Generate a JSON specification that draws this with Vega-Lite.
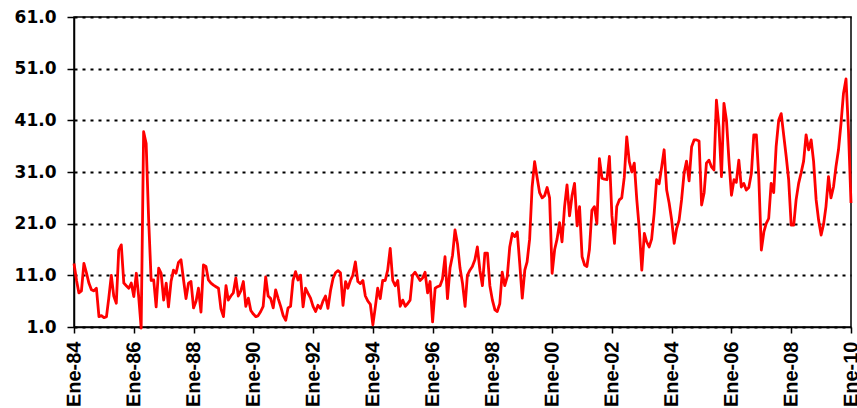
{
"$schema": "https://vega.github.io/schema/vega-lite/v6.json",
"width": 777, "height": 310,
"autosize": "none",
"padding": {"left": 74, "top": 17, "right": 6, "bottom": 81},
"background": "white",
"config": {"view": {"stroke": "black", "strokeWidth": 1.5}},
"datasets": {"serie": [
{"d":"1984-01-01","v":13.3},{"d":"1984-02-01","v":10},{"d":"1984-03-01","v":7.6},{"d":"1984-04-01","v":8},{"d":"1984-05-01","v":13.3},{"d":"1984-06-01","v":11.5},{"d":"1984-07-01","v":9.5},{"d":"1984-08-01","v":8.2},{"d":"1984-09-01","v":8},{"d":"1984-10-01","v":8.5},{"d":"1984-11-01","v":3},{"d":"1984-12-01","v":3.2},
{"d":"1985-01-01","v":2.8},{"d":"1985-02-01","v":3},{"d":"1985-03-01","v":6.6},{"d":"1985-04-01","v":11},{"d":"1985-05-01","v":7},{"d":"1985-06-01","v":5.6},{"d":"1985-07-01","v":15.9},{"d":"1985-08-01","v":16.9},{"d":"1985-09-01","v":9.5},{"d":"1985-10-01","v":9},{"d":"1985-11-01","v":8.5},{"d":"1985-12-01","v":9.5},
{"d":"1986-01-01","v":6.9},{"d":"1986-02-01","v":11.4},{"d":"1986-03-01","v":7},{"d":"1986-04-01","v":0.8},{"d":"1986-05-01","v":38.8},{"d":"1986-06-01","v":36.5},{"d":"1986-07-01","v":22},{"d":"1986-08-01","v":10},{"d":"1986-09-01","v":10.1},{"d":"1986-10-01","v":4.9},{"d":"1986-11-01","v":12.4},{"d":"1986-12-01","v":11.4},
{"d":"1987-01-01","v":6.2},{"d":"1987-02-01","v":9.5},{"d":"1987-03-01","v":4.9},{"d":"1987-04-01","v":9.8},{"d":"1987-05-01","v":12},{"d":"1987-06-01","v":11.4},{"d":"1987-07-01","v":13.5},{"d":"1987-08-01","v":14},{"d":"1987-09-01","v":10.1},{"d":"1987-10-01","v":6.5},{"d":"1987-11-01","v":9.5},{"d":"1987-12-01","v":9.8},
{"d":"1988-01-01","v":4.7},{"d":"1988-02-01","v":6},{"d":"1988-03-01","v":8.5},{"d":"1988-04-01","v":3.9},{"d":"1988-05-01","v":13},{"d":"1988-06-01","v":12.7},{"d":"1988-07-01","v":10.1},{"d":"1988-08-01","v":9.5},{"d":"1988-09-01","v":9.1},{"d":"1988-10-01","v":8.8},{"d":"1988-11-01","v":8.5},{"d":"1988-12-01","v":4.5},
{"d":"1989-01-01","v":3},{"d":"1989-02-01","v":9},{"d":"1989-03-01","v":6.2},{"d":"1989-04-01","v":7},{"d":"1989-05-01","v":7.6},{"d":"1989-06-01","v":10.5},{"d":"1989-07-01","v":7},{"d":"1989-08-01","v":8},{"d":"1989-09-01","v":9.8},{"d":"1989-10-01","v":5},{"d":"1989-11-01","v":6.6},{"d":"1989-12-01","v":4.2},
{"d":"1990-01-01","v":3.5},{"d":"1990-02-01","v":3},{"d":"1990-03-01","v":3.2},{"d":"1990-04-01","v":4},{"d":"1990-05-01","v":5},{"d":"1990-06-01","v":10.7},{"d":"1990-07-01","v":7},{"d":"1990-08-01","v":6.5},{"d":"1990-09-01","v":4.7},{"d":"1990-10-01","v":8.2},{"d":"1990-11-01","v":6.5},{"d":"1990-12-01","v":5},
{"d":"1991-01-01","v":3.2},{"d":"1991-02-01","v":2.3},{"d":"1991-03-01","v":4.7},{"d":"1991-04-01","v":5},{"d":"1991-05-01","v":10},{"d":"1991-06-01","v":11.7},{"d":"1991-07-01","v":10.1},{"d":"1991-08-01","v":11},{"d":"1991-09-01","v":4.9},{"d":"1991-10-01","v":8.5},{"d":"1991-11-01","v":7.5},{"d":"1991-12-01","v":6.6},
{"d":"1992-01-01","v":5},{"d":"1992-02-01","v":4},{"d":"1992-03-01","v":5.2},{"d":"1992-04-01","v":4.6},{"d":"1992-05-01","v":6},{"d":"1992-06-01","v":7},{"d":"1992-07-01","v":4.6},{"d":"1992-08-01","v":8},{"d":"1992-09-01","v":10.4},{"d":"1992-10-01","v":11.5},{"d":"1992-11-01","v":11.9},{"d":"1992-12-01","v":11.5},
{"d":"1993-01-01","v":5.2},{"d":"1993-02-01","v":9.8},{"d":"1993-03-01","v":8.5},{"d":"1993-04-01","v":10},{"d":"1993-05-01","v":11},{"d":"1993-06-01","v":13.6},{"d":"1993-07-01","v":9.8},{"d":"1993-08-01","v":9.4},{"d":"1993-09-01","v":10},{"d":"1993-10-01","v":7},{"d":"1993-11-01","v":6},{"d":"1993-12-01","v":5.4},
{"d":"1994-01-01","v":1.4},{"d":"1994-02-01","v":5},{"d":"1994-03-01","v":8.5},{"d":"1994-04-01","v":6.5},{"d":"1994-05-01","v":10},{"d":"1994-06-01","v":10},{"d":"1994-07-01","v":12},{"d":"1994-08-01","v":16.2},{"d":"1994-09-01","v":10},{"d":"1994-10-01","v":9},{"d":"1994-11-01","v":10},{"d":"1994-12-01","v":5},
{"d":"1995-01-01","v":6.2},{"d":"1995-02-01","v":5},{"d":"1995-03-01","v":5.5},{"d":"1995-04-01","v":6.2},{"d":"1995-05-01","v":11},{"d":"1995-06-01","v":11.6},{"d":"1995-07-01","v":10.8},{"d":"1995-08-01","v":10},{"d":"1995-09-01","v":10.5},{"d":"1995-10-01","v":11.6},{"d":"1995-11-01","v":7.6},{"d":"1995-12-01","v":9.8},
{"d":"1996-01-01","v":2},{"d":"1996-02-01","v":8.5},{"d":"1996-03-01","v":8.8},{"d":"1996-04-01","v":9},{"d":"1996-05-01","v":10.3},{"d":"1996-06-01","v":14.6},{"d":"1996-07-01","v":6.5},{"d":"1996-08-01","v":12.4},{"d":"1996-09-01","v":14.9},{"d":"1996-10-01","v":19.8},{"d":"1996-11-01","v":17},{"d":"1996-12-01","v":12.4},
{"d":"1997-01-01","v":9.4},{"d":"1997-02-01","v":5},{"d":"1997-03-01","v":11},{"d":"1997-04-01","v":12},{"d":"1997-05-01","v":12.7},{"d":"1997-06-01","v":14},{"d":"1997-07-01","v":16.5},{"d":"1997-08-01","v":12},{"d":"1997-09-01","v":9},{"d":"1997-10-01","v":15.3},{"d":"1997-11-01","v":15.3},{"d":"1997-12-01","v":9},
{"d":"1998-01-01","v":6.2},{"d":"1998-02-01","v":4.3},{"d":"1998-03-01","v":4},{"d":"1998-04-01","v":5.5},{"d":"1998-05-01","v":11.6},{"d":"1998-06-01","v":9},{"d":"1998-07-01","v":10.7},{"d":"1998-08-01","v":16.5},{"d":"1998-09-01","v":19.1},{"d":"1998-10-01","v":18.5},{"d":"1998-11-01","v":19.4},{"d":"1998-12-01","v":13.3},
{"d":"1999-01-01","v":6.6},{"d":"1999-02-01","v":12},{"d":"1999-03-01","v":13.6},{"d":"1999-04-01","v":18},{"d":"1999-05-01","v":28},{"d":"1999-06-01","v":33},{"d":"1999-07-01","v":30},{"d":"1999-08-01","v":27},{"d":"1999-09-01","v":26},{"d":"1999-10-01","v":26.4},{"d":"1999-11-01","v":28},{"d":"1999-12-01","v":26},
{"d":"2000-01-01","v":11.4},{"d":"2000-02-01","v":16},{"d":"2000-03-01","v":18},{"d":"2000-04-01","v":21.2},{"d":"2000-05-01","v":17.5},{"d":"2000-06-01","v":24.3},{"d":"2000-07-01","v":28.5},{"d":"2000-08-01","v":22.5},{"d":"2000-09-01","v":26.5},{"d":"2000-10-01","v":28.8},{"d":"2000-11-01","v":20.6},{"d":"2000-12-01","v":24.3},
{"d":"2001-01-01","v":14.6},{"d":"2001-02-01","v":13},{"d":"2001-03-01","v":12.7},{"d":"2001-04-01","v":16},{"d":"2001-05-01","v":23.6},{"d":"2001-06-01","v":24.3},{"d":"2001-07-01","v":21},{"d":"2001-08-01","v":33.6},{"d":"2001-09-01","v":29.8},{"d":"2001-10-01","v":29.6},{"d":"2001-11-01","v":29.5},{"d":"2001-12-01","v":34},
{"d":"2002-01-01","v":22.5},{"d":"2002-02-01","v":17.2},{"d":"2002-03-01","v":24.3},{"d":"2002-04-01","v":25.6},{"d":"2002-05-01","v":26},{"d":"2002-06-01","v":30},{"d":"2002-07-01","v":37.8},{"d":"2002-08-01","v":33},{"d":"2002-09-01","v":31},{"d":"2002-10-01","v":32.7},{"d":"2002-11-01","v":25.6},{"d":"2002-12-01","v":20},
{"d":"2003-01-01","v":12},{"d":"2003-02-01","v":19.1},{"d":"2003-03-01","v":17.5},{"d":"2003-04-01","v":16.5},{"d":"2003-05-01","v":18},{"d":"2003-06-01","v":23},{"d":"2003-07-01","v":29.5},{"d":"2003-08-01","v":28.7},{"d":"2003-09-01","v":32},{"d":"2003-10-01","v":35.3},{"d":"2003-11-01","v":27.5},{"d":"2003-12-01","v":25},
{"d":"2004-01-01","v":21.7},{"d":"2004-02-01","v":17.2},{"d":"2004-03-01","v":20},{"d":"2004-04-01","v":21.7},{"d":"2004-05-01","v":25.6},{"d":"2004-06-01","v":30.8},{"d":"2004-07-01","v":33.1},{"d":"2004-08-01","v":29.3},{"d":"2004-09-01","v":35.9},{"d":"2004-10-01","v":37.2},{"d":"2004-11-01","v":37.2},{"d":"2004-12-01","v":37},
{"d":"2005-01-01","v":24.6},{"d":"2005-02-01","v":27},{"d":"2005-03-01","v":32.7},{"d":"2005-04-01","v":33.3},{"d":"2005-05-01","v":32},{"d":"2005-06-01","v":31.4},{"d":"2005-07-01","v":44.9},{"d":"2005-08-01","v":39.8},{"d":"2005-09-01","v":30.1},{"d":"2005-10-01","v":44.3},{"d":"2005-11-01","v":41},{"d":"2005-12-01","v":33.3},
{"d":"2006-01-01","v":26.5},{"d":"2006-02-01","v":29.5},{"d":"2006-03-01","v":29},{"d":"2006-04-01","v":33.3},{"d":"2006-05-01","v":28.1},{"d":"2006-06-01","v":28.8},{"d":"2006-07-01","v":27.5},{"d":"2006-08-01","v":28},{"d":"2006-09-01","v":30.7},{"d":"2006-10-01","v":38.2},{"d":"2006-11-01","v":38.2},{"d":"2006-12-01","v":30},
{"d":"2007-01-01","v":15.9},{"d":"2007-02-01","v":19.4},{"d":"2007-03-01","v":21},{"d":"2007-04-01","v":22},{"d":"2007-05-01","v":28.8},{"d":"2007-06-01","v":27},{"d":"2007-07-01","v":35.9},{"d":"2007-08-01","v":41},{"d":"2007-09-01","v":42.3},{"d":"2007-10-01","v":38.2},{"d":"2007-11-01","v":34},{"d":"2007-12-01","v":29.5},
{"d":"2008-01-01","v":20.7},{"d":"2008-02-01","v":20.7},{"d":"2008-03-01","v":25.6},{"d":"2008-04-01","v":28.8},{"d":"2008-05-01","v":30.8},{"d":"2008-06-01","v":33.1},{"d":"2008-07-01","v":38.2},{"d":"2008-08-01","v":35.3},{"d":"2008-09-01","v":37.2},{"d":"2008-10-01","v":33},{"d":"2008-11-01","v":25.6},{"d":"2008-12-01","v":21.7},
{"d":"2009-01-01","v":18.8},{"d":"2009-02-01","v":21},{"d":"2009-03-01","v":24.3},{"d":"2009-04-01","v":30.1},{"d":"2009-05-01","v":26},{"d":"2009-06-01","v":28.1},{"d":"2009-07-01","v":32},{"d":"2009-08-01","v":35.3},{"d":"2009-09-01","v":40.4},{"d":"2009-10-01","v":46.2},{"d":"2009-11-01","v":49},{"d":"2009-12-01","v":39},
{"d":"2010-01-01","v":25}
]},
"data": {"name": "serie"},
"mark": {"type": "line", "color": "#ff0000", "strokeWidth": 2.8, "clip": false, "strokeJoin": "round"},
"encoding": {
  "x": {"field": "d", "type": "temporal",
    "scale": {"type": "utc", "domain": [{"year": 1984, "month": 1, "date": 1, "utc": true}, {"year": 2010, "month": 1, "date": 1, "utc": true}]},
    "axis": {"title": null, "grid": false,
      "values": [{"year":1984,"month":1,"date":1,"utc":true},{"year":1986,"month":1,"date":1,"utc":true},{"year":1988,"month":1,"date":1,"utc":true},{"year":1990,"month":1,"date":1,"utc":true},{"year":1992,"month":1,"date":1,"utc":true},{"year":1994,"month":1,"date":1,"utc":true},{"year":1996,"month":1,"date":1,"utc":true},{"year":1998,"month":1,"date":1,"utc":true},{"year":2000,"month":1,"date":1,"utc":true},{"year":2002,"month":1,"date":1,"utc":true},{"year":2004,"month":1,"date":1,"utc":true},{"year":2006,"month":1,"date":1,"utc":true},{"year":2008,"month":1,"date":1,"utc":true},{"year":2010,"month":1,"date":1,"utc":true}],
      "labelExpr": "'Ene-' + utcFormat(datum.value, '%y')",
      "labelAngle": -89.9, "labelAlign": "right", "labelBaseline": "middle", "labelPadding": 8,
      "labelFont": "Liberation Sans", "labelFontSize": 20, "labelFontWeight": "bold", "labelColor": "black",
      "labelOverlap": false, "labelBound": false, "labelFlush": false,
      "domainColor": "black", "domainWidth": 1.5, "tickColor": "black", "tickWidth": 1.5, "tickSize": 6}},
  "y": {"field": "v", "type": "quantitative",
    "scale": {"domain": [1, 61], "nice": false, "zero": false},
    "axis": {"title": null, "values": [1, 11, 21, 31, 41, 51, 61], "format": ".1f",
      "grid": true, "gridColor": "black", "gridDash": [3, 5], "gridWidth": 2,
      "labelFont": "DejaVu Sans", "labelFontSize": 17, "labelFontWeight": "bold", "labelColor": "black", "labelPadding": 11,
      "labelOverlap": false, "labelFlush": false,
      "domainColor": "black", "domainWidth": 1.5, "tickColor": "black", "tickWidth": 1.5, "tickSize": 7}}
}
}
